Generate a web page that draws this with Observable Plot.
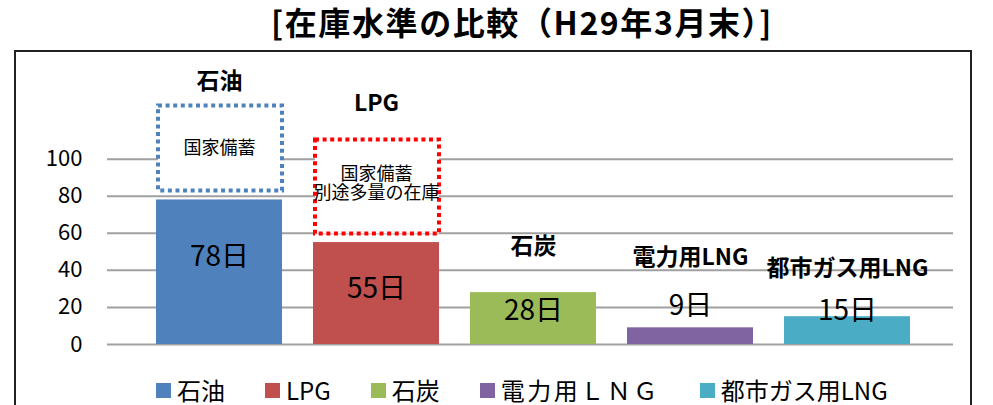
<!DOCTYPE html>
<html><head><meta charset="utf-8">
<script src="https://cdn.jsdelivr.net/npm/d3@7"></script>
<script src="https://cdn.jsdelivr.net/npm/@observablehq/plot@0.6"></script>
<style>
html,body{margin:0;padding:0;background:#fff;width:993px;height:405px;overflow:hidden;font-family:"Noto Sans CJK JP",sans-serif;}
#title{position:absolute;left:51px;top:2px;width:942px;text-align:center;font-size:32px;font-weight:bold;letter-spacing:1.6px;line-height:38px;white-space:nowrap;color:#000;}
#frame{position:absolute;left:14px;top:50px;width:954px;height:420px;border:2px solid #222;}
#chart{position:absolute;left:16px;top:52px;}
#legend{position:absolute;left:156px;top:375px;display:flex;gap:40px;align-items:center;font-size:24px;line-height:30px;white-space:nowrap;color:#000;}
.item{display:flex;align-items:center;}
.sw{display:inline-block;width:15px;height:15px;margin-right:6px;}
</style></head>
<body>
<div id="title">[在庫水準の比較（H29年3月末）]</div>
<div id="frame"></div>
<div id="chart"></div>
<div id="legend"></div>
<script>
const categories = ["石油","LPG","石炭","電力用LNG","都市ガス用LNG"];
const days = [78,55,28,9,15];
const dayLabels = ["78日","55日","28日","9日","15日"];
const colors = ["#4F81BD","#C0504D","#9BBB59","#8064A2","#4BACC6"];
const nameLabelY = [142,130,53,47,41];
const dayLabelY = [47,30,18,21,18];
const legendLabels = ["石油","LPG","石炭","電力用ＬＮＧ","都市ガス用LNG"];
const reserveCats = ["石油","LPG"];
const reserveLow = [82.8,59.6];
const reserveHigh = [128.7,110.4];
const reserveText = ["国家備蓄","国家備蓄\n別途多量の在庫"];
const reserveTextY = [106,87];
const reserveColors = ["#4F81BD","#FF0000"];
const yTicks = [0,20,40,60,80,100];

const rows = categories.map((c,i)=>({cat:c, days:days[i], label:dayLabels[i], nameY:nameLabelY[i], labelY:dayLabelY[i]}));
const reserves = reserveCats.map((c,i)=>({cat:c, low:reserveLow[i], high:reserveHigh[i], text:reserveText[i], ty:reserveTextY[i], color:reserveColors[i]}));

const chart = Plot.plot({
  width:954, height:315,
  marginLeft:91, marginRight:17, marginTop:14, marginBottom:23,
  style:{fontFamily:"'Noto Sans CJK JP',sans-serif", fontSize:"21px", color:"#000", background:"transparent", overflow:"visible"},
  x:{domain:categories, paddingInner:0.199, paddingOuter:0.289, align:0.53, axis:null},
  y:{domain:[0,150], axis:null},
  color:{domain:categories, range:colors},
  marks:[
    Plot.gridY(yTicks, {stroke:"#a0a0a0", strokeOpacity:1, strokeWidth:2}),
    Plot.axisY(yTicks, {tickSize:0, tickPadding:25, fontSize:22, fill:"#000"}),
    Plot.barY(rows, {x:"cat", y:"days", fill:"cat"}),
    ...reserves.map(r => Plot.barY([r], {x:"cat", y1:"low", y2:"high", fill:"white", stroke:r.color, strokeWidth:4, strokeDasharray:"4 3.6", insetLeft:2, insetRight:0})),
    Plot.text(reserves, {x:"cat", y:"ty", text:"text", fontSize:18, lineHeight:1.08, fill:"#000"}),
    Plot.text(rows, {x:"cat", y:"nameY", text:"cat", fontSize:23, fontWeight:"bold", fill:"#000"}),
    Plot.text(rows, {x:"cat", y:"labelY", text:"label", fontSize:28, fill:"#000"})
  ]
});
document.getElementById("chart").appendChild(chart);

const legend = document.getElementById("legend");
legendLabels.forEach((l,i)=>{
  const it = document.createElement("div"); it.className="item";
  const sw = document.createElement("span"); sw.className="sw"; sw.style.background=colors[i];
  const tx = document.createElement("span"); tx.textContent=l;
  if (i===3) tx.style.letterSpacing="2.5px";
  it.appendChild(sw); it.appendChild(tx); legend.appendChild(it);
});
</script>
</body></html>
